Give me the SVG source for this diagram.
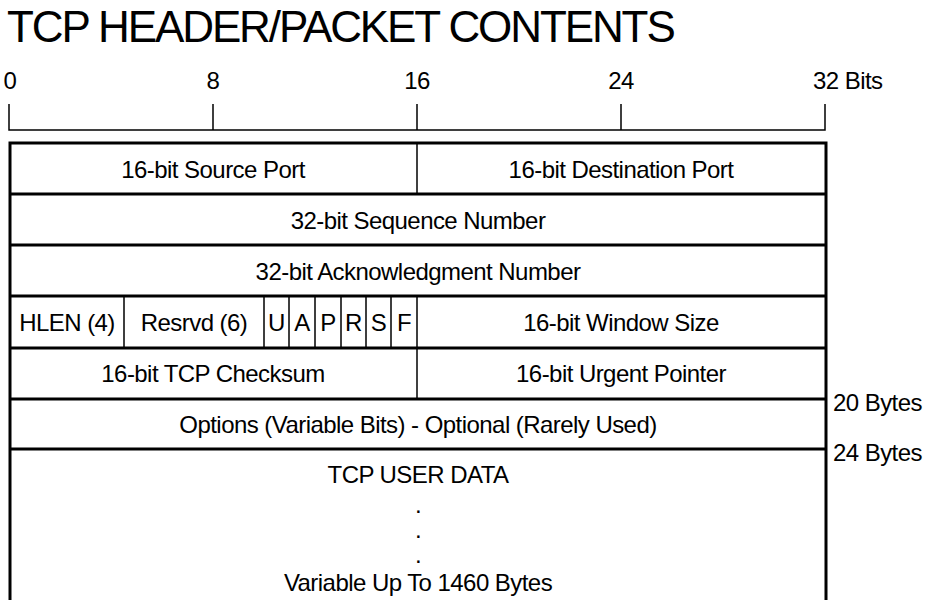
<svg xmlns="http://www.w3.org/2000/svg" width="938" height="600" viewBox="0 0 938 600">
<style>
text{font-family:"Liberation Sans",Arial,sans-serif;fill:#000}
.t{font-size:44px;letter-spacing:-2.1px}
.l{font-size:24px;letter-spacing:-0.55px;text-anchor:middle}
.n{font-size:24px;letter-spacing:-0.55px}
.thick{stroke:#000;stroke-width:3;fill:none}
.thin{stroke:#000;stroke-width:1.5;fill:none}
</style>
<rect width="938" height="600" fill="#fff"/>
<text class="t" x="7" y="42">TCP HEADER/PACKET CONTENTS</text>
<g id="ruler">
<path class="thin" d="M9,104V130H825V104M213,104V130M417,104V130M621,104V130"/>
<text class="l" x="10" y="89">0</text>
<text class="l" x="213" y="89">8</text>
<text class="l" x="417" y="89">16</text>
<text class="l" x="621" y="89">24</text>
<text class="n" x="813" y="89">32 Bits</text>
</g>
<g id="frame">
<path class="thick" d="M10,620V143H826V620"/>
<path class="thick" d="M10,194H826M10,245H826M10,296H826M10,348H826M10,399H826M10,449H826"/>
</g>
<g id="row1">
<path class="thin" d="M417,143V194"/>
<text class="l" x="213" y="178">16-bit Source Port</text>
<text class="l" x="621" y="178">16-bit Destination Port</text>
</g>
<g id="row2"><text class="l" x="418" y="229">32-bit Sequence Number</text></g>
<g id="row3"><text class="l" x="418" y="280">32-bit Acknowledgment Number</text></g>
<g id="row4">
<path class="thin" d="M124,296V348M264,296V348M289,296V348M315,296V348M341,296V348M366,296V348M391,296V348M417,296V348"/>
<text class="l" x="67" y="331">HLEN (4)</text>
<text class="l" x="194" y="331">Resrvd (6)</text>
<text class="l" x="276.5" y="331">U</text>
<text class="l" x="302" y="331">A</text>
<text class="l" x="328" y="331">P</text>
<text class="l" x="353.5" y="331">R</text>
<text class="l" x="378.5" y="331">S</text>
<text class="l" x="404" y="331">F</text>
<text class="l" x="621" y="331">16-bit Window Size</text>
</g>
<g id="row5">
<path class="thin" d="M417,348V399"/>
<text class="l" x="213" y="382">16-bit TCP Checksum</text>
<text class="l" x="621" y="382">16-bit Urgent Pointer</text>
</g>
<g id="row6"><text class="l" x="418" y="433">Options (Variable Bits) - Optional (Rarely Used)</text></g>
<g id="data">
<text class="l" x="418" y="483">TCP USER DATA</text>
<text class="l" x="418" y="513">.</text>
<text class="l" x="418" y="538">.</text>
<text class="l" x="418" y="563">.</text>
<text class="l" x="418" y="591">Variable Up To 1460 Bytes</text>
</g>
<g id="sizes">
<text class="n" x="833" y="411">20 Bytes</text>
<text class="n" x="833" y="461">24 Bytes</text>
</g>
</svg>
